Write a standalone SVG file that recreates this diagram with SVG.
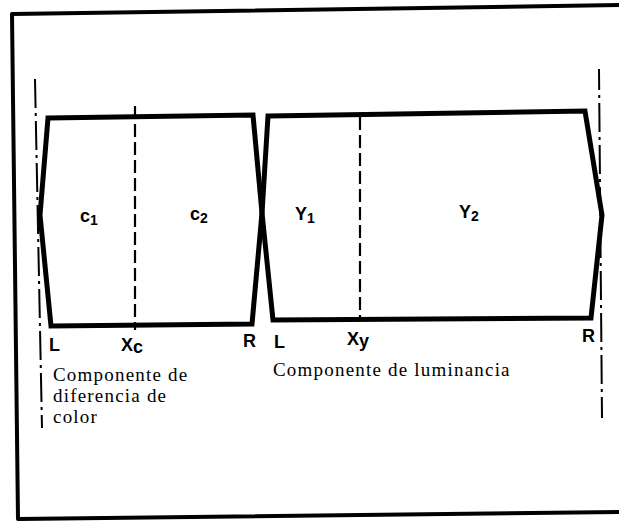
<svg xmlns="http://www.w3.org/2000/svg" width="619" height="522" viewBox="0 0 619 522">
<style>
.frame{fill:none;stroke:#000;stroke-width:4;stroke-linejoin:round}
.shape{fill:none;stroke:#000;stroke-width:5;stroke-linejoin:miter;stroke-miterlimit:20}
.dash{fill:none;stroke:#000;stroke-width:2.2;stroke-dasharray:13 5}
.dashdot{fill:none;stroke:#000;stroke-width:2;stroke-dasharray:29 5 3 5}
.lbl{font-family:"Liberation Sans",Arial,sans-serif;font-weight:bold;font-size:18px;fill:#000}
.txt{font-family:"Liberation Serif","Times New Roman",serif;font-size:19px;letter-spacing:1.2px;fill:#000}
</style>
<rect width="619" height="522" fill="#fff"/>
<path class="frame" d="M622,5 L12,14 L18,519 L622,512"/>
<g id="axes">
<line class="dashdot" x1="35" y1="79" x2="42" y2="428"/>
<line class="dashdot" x1="599" y1="69" x2="602" y2="418" stroke-dashoffset="-34"/>
</g>
<g id="color-component">
<path class="shape" d="M48,118 L253,115 L262,213 L252,324 L51,326 L40,215 Z"/>
<line class="dash" x1="135" y1="106" x2="135" y2="330"/>
<text class="lbl" x="80" y="222">c<tspan font-size="14" dy="3">1</tspan></text>
<text class="lbl" x="190" y="220">c<tspan font-size="14" dy="3">2</tspan></text>
<text class="lbl" x="49" y="351">L</text>
<text class="lbl" x="121" y="351">X<tspan dy="2">c</tspan></text>
<text class="lbl" x="243" y="347">R</text>
<text class="txt" x="53" y="381">Componente de</text>
<text class="txt" x="53" y="402">diferencia de</text>
<text class="txt" x="53" y="423">color</text>
</g>
<g id="luminance-component">
<path class="shape" d="M268,116 L585,111 L602,215 L591,318 L273,320 L262,213 Z"/>
<line class="dash" x1="360" y1="117" x2="360" y2="320"/>
<text class="lbl" x="295" y="220">Y<tspan font-size="14" dy="3">1</tspan></text>
<text class="lbl" x="459" y="218">Y<tspan font-size="14" dy="3">2</tspan></text>
<text class="lbl" x="274" y="348">L</text>
<text class="lbl" x="347" y="345">X<tspan dy="2">y</tspan></text>
<text class="lbl" x="582" y="342">R</text>
<text class="txt" x="273" y="376">Componente de luminancia</text>
</g>
</svg>
